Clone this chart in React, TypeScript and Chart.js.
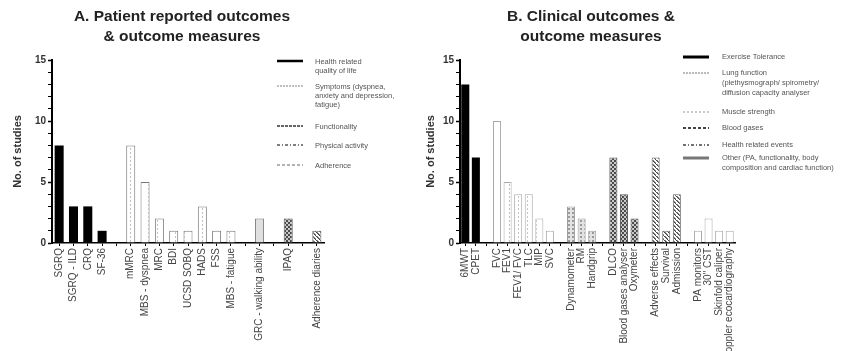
import React, { useEffect, useRef } from 'react';
import { Chart, registerables } from 'chart.js';
Chart.register(...registerables);

// ---------- Panel A data ----------
const hrqolLabels = ['SGRQ', 'SGRQ - ILD', 'CRQ', 'SF-36'];
const hrqolValues = [8, 3, 3, 1];
const symptomLabels = ['mMRC', 'MBS - dyspnea', 'MRC', 'BDI', 'UCSD SOBQ', 'HADS', 'FSS', 'MBS - fatigue'];
const symptomValues = [8, 5, 2, 1, 1, 3, 1, 1];
const functionalityLabels = ['GRC - walking ability'];
const functionalityValues = [2];
const physicalLabels = ['IPAQ'];
const physicalValues = [2];
const adherenceLabels = ['Adherence diaries'];
const adherenceValues = [1];

// ---------- Panel B data ----------
const exerciseLabels = ['6MWT', 'CPET'];
const exerciseValues = [13, 7];
const lungLabels = ['FVC', 'FEV1', 'FEV1/ FVC', 'TLC', 'MIP', 'SVC'];
const lungValues = [10, 5, 4, 4, 2, 1];
const muscleLabels = ['Dynamometer', 'RM', 'Handgrip'];
const muscleValues = [3, 2, 1];
const gasLabels = ['DLCO', 'Blood gases analyser', 'Oxymeter'];
const gasValues = [7, 4, 2];
const eventLabels = ['Adverse effects', 'Survival', 'Admission'];
const eventValues = [7, 1, 4];
const otherLabels = ['PA monitors', '30" CST', 'Skinfold caliper', 'Doppler ecocardiography'];
const otherValues = [1, 2, 1, 1];

const yTicks = [0, 5, 10, 15];

const FONT = "'Liberation Sans', Arial, sans-serif";

function makePattern(kind: string): CanvasPattern | string {
  const c = document.createElement('canvas');
  const g = c.getContext('2d')!;
  if (kind === 'vdash') {
    c.width = 9; c.height = 4;
    g.fillStyle = '#fff'; g.fillRect(0, 0, 9, 4);
    g.fillStyle = '#c4c4c4'; g.fillRect(4, 0, 1, 2);
  } else if (kind === 'muscle') {
    c.width = 4; c.height = 4;
    g.fillStyle = '#e2e2e2'; g.fillRect(0, 0, 4, 4);
    g.fillStyle = '#9a9a9a'; g.fillRect(0, 0, 2, 2);
  } else if (kind === 'checker') {
    c.width = 4; c.height = 4;
    g.fillStyle = '#4a4a4a'; g.fillRect(0, 0, 4, 4);
    g.fillStyle = '#c8c8c8'; g.fillRect(0, 0, 2, 2); g.fillRect(2, 2, 2, 2);
  } else if (kind === 'diag') {
    c.width = 4; c.height = 4;
    g.fillStyle = '#fff'; g.fillRect(0, 0, 4, 4);
    g.fillStyle = '#444';
    for (let i = 0; i < 4; i++) g.fillRect(i, i, 1, 1);
    g.fillStyle = '#888';
    for (let i = 0; i < 3; i++) g.fillRect(i + 1, i, 1, 1);
  } else {
    return kind;
  }
  return g.createPattern(c, 'repeat')!;
}

type Group = { labels: string[]; values: number[]; fill: string; border: string; bw: number };

function build(groups: Group[]) {
  const labels: string[] = [];
  const idx: number[][] = [];
  groups.forEach((gr, gi) => {
    if (gi > 0) labels.push('');
    const ids: number[] = [];
    gr.labels.forEach((l) => { ids.push(labels.length); labels.push(l); });
    idx.push(ids);
  });
  const datasets = groups.map((gr, gi) => {
    const data: (number | null)[] = labels.map(() => null);
    idx[gi].forEach((k, j) => { data[k] = gr.values[j]; });
    return {
      data,
      backgroundColor: makePattern(gr.fill),
      borderColor: gr.border,
      borderWidth: gr.bw,
    };
  });
  return { labels, datasets };
}

function makeOptions(yWidth: number, padRight: number, titlePad: number, barPct: number): any {
  return {
    responsive: false,
    animation: false,
    events: [],
    layout: { padding: { left: 0, top: 60, right: padRight, bottom: 0 } },
    plugins: { legend: { display: false }, tooltip: { enabled: false }, title: { display: false } },
    datasets: { bar: { grouped: false, barPercentage: barPct, categoryPercentage: 1 } },
    scales: {
      x: {
        offset: true,
        grid: { display: true, drawOnChartArea: false, drawTicks: true, tickLength: 3, offset: false, color: '#000' },
        border: { display: true, color: '#000', width: 1.5 },
        ticks: {
          autoSkip: false, minRotation: 90, maxRotation: 90, padding: 2,
          color: '#444', font: { size: 10, family: FONT },
        },
        afterFit: (s: any) => { s.height = 108; },
      },
      y: {
        min: 0, max: 15,
        grid: {
          display: true, drawOnChartArea: false, drawTicks: true, tickLength: 4, color: '#000',
          tickWidth: (c: any) => (c.tick && yTicks.includes(c.tick.value) ? 1.5 : 1),
        },
        border: { display: true, color: '#000', width: 2 },
        ticks: {
          autoSkip: false, stepSize: 1, padding: 2, color: '#333',
          font: { size: 10, weight: 'bold', family: FONT },
          callback: (v: number) => (yTicks.includes(v) ? String(v) : ''),
        },
        title: {
          display: true, text: 'No. of studies', color: '#333',
          font: { size: 11, weight: 'bold', family: FONT },
          padding: { top: titlePad, bottom: 0 },
        },
        afterFit: (s: any) => { s.width = yWidth; },
      },
    },
  };
}

function Panel(props: { groups: Group[]; left: number; yWidth: number; padRight: number; titlePad: number; barPct: number }) {
  const ref = useRef<HTMLCanvasElement>(null);
  useEffect(() => {
    const { labels, datasets } = build(props.groups);
    const chart = new Chart(ref.current!, {
      type: 'bar',
      data: { labels, datasets } as any,
      options: makeOptions(props.yWidth, props.padRight, props.titlePad, props.barPct),
    });
    return () => chart.destroy();
  }, []);
  return (
    <canvas ref={ref} width={424} height={351}
      style={{ position: 'absolute', left: props.left, top: 0, width: 424, height: 351 }} />
  );
}

type LegendItem = { y: number; text: string[]; stroke: string; width: number; dash: string };

function Legend(props: { x: number; textX: number; items: LegendItem[]; lh: number }) {
  return (
    <>
      {props.items.map((it, i) => (
        <React.Fragment key={i}>
          <svg style={{ position: 'absolute', left: props.x, top: it.y - 3, width: 28, height: 6 }}>
            <line x1={0} y1={3} x2={26} y2={3} stroke={it.stroke} strokeWidth={it.width} strokeDasharray={it.dash} />
          </svg>
          <div style={{
            position: 'absolute', left: props.textX, top: it.y - props.lh / 2, fontFamily: FONT,
            fontSize: 7.5, lineHeight: props.lh + 'px', color: '#555', whiteSpace: 'nowrap',
          }}>
            {it.text.map((t, j) => <div key={j}>{t}</div>)}
          </div>
        </React.Fragment>
      ))}
    </>
  );
}

const legendA: LegendItem[] = [
  { y: 61, text: ['Health related', 'quality of life'], stroke: '#000', width: 2.5, dash: '' },
  { y: 86, text: ['Symptoms (dyspnea,', 'anxiety and depression,', 'fatigue)'], stroke: '#aaa', width: 1.5, dash: '2 1' },
  { y: 126, text: ['Functionality'], stroke: '#666', width: 2, dash: '3 1' },
  { y: 145, text: ['Physical activity'], stroke: '#555', width: 1.5, dash: '3 2 1 2' },
  { y: 165, text: ['Adherence'], stroke: '#999', width: 1.5, dash: '3 2' },
];

const legendB: LegendItem[] = [
  { y: 57, text: ['Exercise Tolerance'], stroke: '#000', width: 3, dash: '' },
  { y: 73, text: ['Lung function', '(plethysmograph/ spirometry/', 'diffusion capacity analyser'], stroke: '#bbb', width: 2, dash: '2 1' },
  { y: 112, text: ['Muscle strength'], stroke: '#bbb', width: 1.5, dash: '2 2' },
  { y: 128, text: ['Blood gases'], stroke: '#444', width: 2, dash: '3 2' },
  { y: 145, text: ['Health related events'], stroke: '#444', width: 1.5, dash: '3 2 1 2' },
  { y: 158, text: ['Other (PA, functionality, body', 'composition and cardiac function)'], stroke: '#777', width: 3, dash: '' },
];

const groupsA: Group[] = [
  { labels: hrqolLabels, values: hrqolValues, fill: '#000', border: '#000', bw: 0 },
  { labels: symptomLabels, values: symptomValues, fill: 'vdash', border: '#777', bw: 1 },
  { labels: functionalityLabels, values: functionalityValues, fill: '#e0e0e0', border: '#777', bw: 1 },
  { labels: physicalLabels, values: physicalValues, fill: 'checker', border: '#555', bw: 1 },
  { labels: adherenceLabels, values: adherenceValues, fill: 'diag', border: '#555', bw: 1 },
];

const groupsB: Group[] = [
  { labels: exerciseLabels, values: exerciseValues, fill: '#000', border: '#000', bw: 0 },
  { labels: lungLabels, values: lungValues, fill: 'vdash', border: '#aaa', bw: 1 },
  { labels: muscleLabels, values: muscleValues, fill: 'muscle', border: '#999', bw: 1 },
  { labels: gasLabels, values: gasValues, fill: 'checker', border: '#555', bw: 1 },
  { labels: eventLabels, values: eventValues, fill: 'diag', border: '#666', bw: 1 },
  { labels: otherLabels, values: otherValues, fill: '#fff', border: '#aaa', bw: 1 },
];

const titleStyle: React.CSSProperties = {
  position: 'absolute', top: 6, textAlign: 'center', fontFamily: FONT, fontWeight: 'bold',
  fontSize: 15.5, lineHeight: '20px', color: '#222', whiteSpace: 'nowrap',
};

export default function App() {
  return (
    <div style={{ position: 'fixed', left: 0, top: 0, width: 848, height: 351, background: '#fff', overflow: 'hidden' }}>
      <Panel groups={groupsA} left={0} yWidth={52} padRight={100} titlePad={11} barPct={0.63} />
      <Panel groups={groupsB} left={424} yWidth={36} padRight={113} titlePad={0} barPct={0.76} />
      <div style={{ ...titleStyle, left: 32, width: 300 }}>
        <div>A. Patient reported outcomes</div>
        <div>&amp; outcome measures</div>
      </div>
      <div style={{ ...titleStyle, left: 441, width: 300 }}>
        <div>B. Clinical outcomes &amp;</div>
        <div>outcome measures</div>
      </div>
      <Legend x={277} textX={315} items={legendA} lh={9} />
      <Legend x={683} textX={722} items={legendB} lh={10} />
    </div>
  );
}
